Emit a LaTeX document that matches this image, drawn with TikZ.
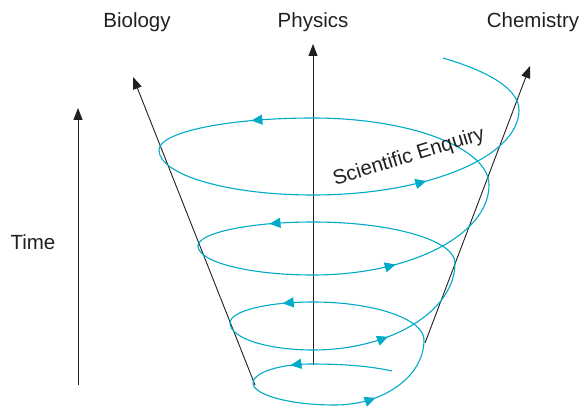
\documentclass[tikz,border=0pt]{standalone}
\usepackage{fontspec}
\setmainfont{Liberation Sans}
\usetikzlibrary{arrows.meta,decorations.markings}
\definecolor{enquiry}{RGB}{0,171,199}
\definecolor{ink}{RGB}{35,31,32}
\tikzset{
  axis/.style={draw=ink, line width=0.9pt, -{Triangle[length=12pt,width=9pt]}},
  label/.style={text=ink, font=\fontsize{20.5}{23}\selectfont},
  spiral/.style={draw=enquiry, line width=1.1pt},
  flow/.style={postaction={decorate}, decoration={markings,
    mark=at position #1 with {\arrow[enquiry]{Triangle[length=11pt,width=10pt]}}}}
}
\begin{document}
\begin{tikzpicture}[x=1pt,y=1pt]
\useasboundingbox (0,0) rectangle (585,407);

% axes
\coordinate (time0) at (78,22);
\coordinate (time1) at (78,299);
\coordinate (bio0) at (255,22);
\coordinate (bio1) at (133,330);
\coordinate (phy0) at (313,42);
\coordinate (phy1) at (313,363);
\coordinate (chem0) at (425,64);
\coordinate (chem1) at (530,341);
\node[label] (time) at (33,165) {Time};
\node[label] (bio) at (137,385) {Biology};
\node[label] (phy) at (313,385) {Physics};
\node[label] (chem) at (533,385) {Chemistry};
\draw[axis] (time0) -- (time1);
\draw[axis] (bio0) -- (bio1);
\draw[axis] (phy0) -- (phy1);
\draw[axis] (chem0) -- (chem1);

% spiral: b = back, l = left, f = front, r = right
\coordinate (s0) at (392,36);
\coordinate (b0) at (310,43);
\coordinate (l0) at (253,24);
\coordinate (f0) at (335,2);
\coordinate (r0) at (424,67);
\coordinate (b1) at (313,105);
\coordinate (l1) at (230,84);
\coordinate (f1) at (313,57);
\coordinate (r1) at (455,144);
\coordinate (b2) at (313,185);
\coordinate (l2) at (198,161);
\coordinate (f2) at (313,132);
\coordinate (r2) at (489,222);
\coordinate (b3) at (313,289);
\coordinate (l3) at (159,257);
\coordinate (f3) at (313,212);
\coordinate (r3) at (519,297);
\coordinate (e) at (443,349);

\draw[spiral] (s0) .. controls +(-27,6) and +(25,0) .. (b0);
\draw[spiral, flow=.31] (b0) .. controls +(-31,0) and +(0,10) .. (l0);
\draw[spiral] (l0) .. controls +(0,-12) and +(-45,0) .. (f0);
\draw[spiral, flow=.34] (f0) .. controls +(49,0) and +(0,-36) .. (r0);
\draw[spiral] (r0) .. controls +(0,21) and +(61,0) .. (b1);
\draw[spiral, flow=.34] (b1) .. controls +(-46,0) and +(0,12) .. (l1);
\draw[spiral] (l1) .. controls +(0,-15) and +(-46,0) .. (f1);
\draw[spiral, flow=.42] (f1) .. controls +(78,0) and +(0,-48) .. (r1);
\draw[spiral] (r1) .. controls +(0,23) and +(78,0) .. (b2);
\draw[spiral, flow=.36] (b2) .. controls +(-64,0) and +(0,13) .. (l2);
\draw[spiral] (l2) .. controls +(0,-16) and +(-64,0) .. (f2);
\draw[spiral, flow=.39] (f2) .. controls +(97,0) and +(0,-50) .. (r2);
\draw[spiral] (r2) .. controls +(0,37) and +(97,0) .. (b3);
\draw[spiral, flow=.38] (b3) .. controls +(-85,0) and +(0,18) .. (l3);
\draw[spiral] (l3) .. controls +(0,-25) and +(-85,0) .. (f3);
\draw[spiral, flow=.48] (f3) .. controls +(114,0) and +(0,-47) .. (r3);
\draw[spiral] (r3) .. controls +(0,20) and +(48,-14) .. (e);

\node[label, rotate=17] (enq) at (409,250) {Scientific Enquiry};
\end{tikzpicture}
\end{document}
